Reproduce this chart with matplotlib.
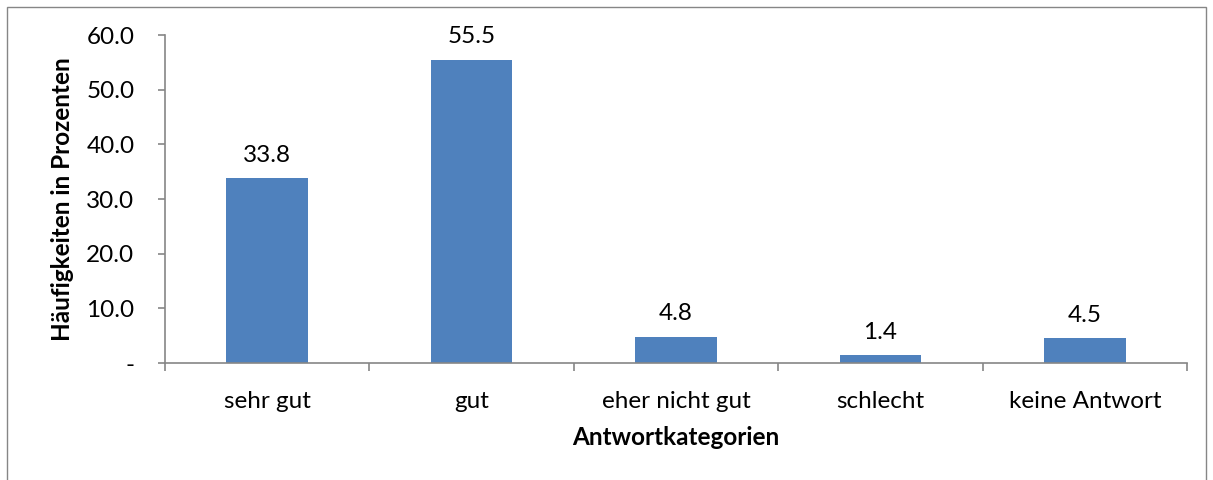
import matplotlib.pyplot as plt
from matplotlib.patches import Rectangle

# data
categories = ['sehr gut', 'gut', 'eher nicht gut', 'schlecht', 'keine Antwort']
values = [33.8, 55.5, 4.8, 1.4, 4.5]
yticks = [0, 10, 20, 30, 40, 50, 60]
ytick_labels = ['-', '10.0', '20.0', '30.0', '40.0', '50.0', '60.0']

plt.rcParams['font.family'] = ['Lato', 'DejaVu Sans']
fs = 17.5

W, H = 1213, 480
fig = plt.figure(figsize=(W / 100, H / 100), dpi=100)

# outer chart border (Excel style)
fig.patches.append(Rectangle((7 / W, -0.05), (1206 - 7) / W, 1.05 - 7 / H,
                             transform=fig.transFigure, fill=False,
                             edgecolor='#868686', linewidth=1))

ax = fig.add_axes([165 / W, 1 - 363 / H, (1187 - 165) / W, (363 - 35) / H])

bar_col = '#4F81BD'
grey = '#868686'
x = list(range(len(categories)))
ax.bar(x, values, width=0.4, color=bar_col, zorder=2)

for xi, v in zip(x, values):
    ax.annotate(f'{v:.1f}', (xi, v), xytext=(0, 9), textcoords='offset points',
                ha='center', va='bottom', fontsize=fs)

ax.set_xlim(-0.5, len(categories) - 0.5)
ax.set_ylim(0, 60)
ax.set_yticks(yticks)
ax.set_yticklabels(ytick_labels, fontsize=fs)

# category labels at centres, tick marks at category boundaries
ax.set_xticks(x)
ax.set_xticklabels(categories, fontsize=fs)
ax.tick_params(axis='x', length=0, pad=20)
ax.set_xticks([i - 0.5 for i in range(len(categories) + 1)], minor=True)
ax.tick_params(axis='x', which='minor', length=6, color=grey, width=1.2, direction='out')
ax.tick_params(axis='y', length=5, color=grey, width=1.2, pad=17)

for s in ['top', 'right']:
    ax.spines[s].set_visible(False)
for s in ['left', 'bottom']:
    ax.spines[s].set_color(grey)
    ax.spines[s].set_linewidth(1.2)

ax.set_ylabel('Häufigkeiten in Prozenten', fontsize=fs, fontweight='bold', labelpad=9)
ax.set_xlabel('Antwortkategorien', fontsize=fs, fontweight='bold', labelpad=10)

fig.savefig('out.png', dpi=100)
